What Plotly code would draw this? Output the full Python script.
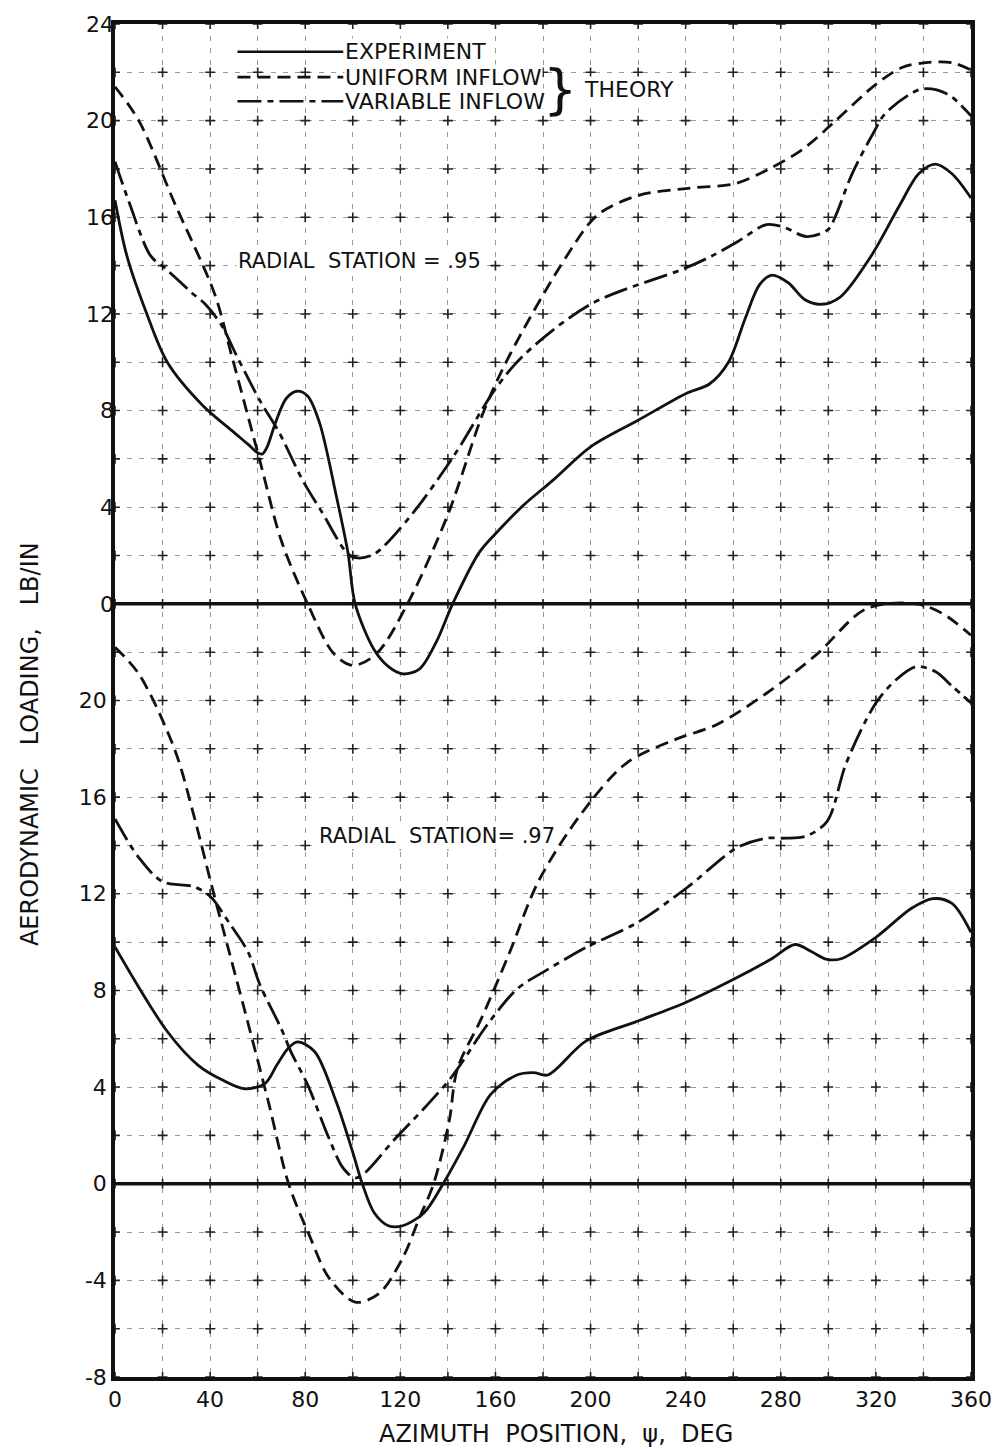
import numpy as np
import plotly.graph_objects as go

# ---------------- data ----------------
# Radial station .95 (upper panel, own scale 0..24)
exp95_x = [0, 5, 13, 22, 37, 50, 56, 60, 62, 64, 67.5, 72, 76.5, 81, 86, 93, 98, 101, 109, 115, 121,
           128, 135, 142, 153, 160, 172, 184, 200, 220, 240, 250, 258, 265, 271, 276, 283, 290, 297,
           305, 318, 330, 338, 345, 352, 360]
exp95_y = [16.7, 14.4, 12.1, 10.0, 8.2, 7.1, 6.6, 6.25, 6.2, 6.5, 7.5, 8.5, 8.8, 8.6, 7.5, 4.5, 2.1,
           0.0, -1.9, -2.6, -2.9, -2.7, -1.6, 0.0, 2.1, 2.9, 4.1, 5.1, 6.5, 7.6, 8.7, 9.1, 10.0, 11.8,
           13.2, 13.6, 13.3, 12.6, 12.4, 12.7, 14.4, 16.5, 17.8, 18.2, 17.8, 16.8]

uni95_x = [0, 10, 25, 42, 49, 61, 70, 81, 92, 100, 110, 123, 140, 155, 166, 190, 203, 220, 241, 261,
           275, 289, 302, 320, 331, 341, 352, 360]
uni95_y = [21.4, 20.0, 16.6, 12.8, 10.3, 5.9, 2.6, 0.0, -2.06, -2.55, -2.06, 0.0, 3.7, 7.95, 10.3,
           14.4, 16.1, 16.9, 17.2, 17.4, 18.0, 18.8, 19.9, 21.5, 22.2, 22.4, 22.4, 22.1]

var95_x = [0, 6, 15, 21, 32, 38, 45, 51, 61, 69, 79, 87, 98, 102, 109, 124, 143, 160, 172, 200, 240,
           251, 262, 274, 281, 291, 300, 303, 310, 319, 324, 339, 350, 360]
var95_y = [18.3, 16.6, 14.4, 13.9, 12.9, 12.4, 11.5, 10.3, 8.4, 7.1, 5.1, 3.8, 2.06, 1.9, 2.06, 3.6,
           6.2, 8.9, 10.3, 12.4, 13.9, 14.4, 15.0, 15.7, 15.6, 15.2, 15.5, 16.05, 17.8, 19.5, 20.3,
           21.3, 21.1, 20.2]

# Radial station .97 (lower panel, own scale -8..20)
exp97_x = [0, 22, 35, 45, 54.5, 63, 68, 72.6, 76.8, 84, 93, 100, 104, 109, 115, 121, 130, 138, 147,
           158, 169, 176, 182, 198, 219, 240, 261, 276, 286, 293, 299, 305, 320, 335, 344, 352, 360]
exp97_y = [9.8, 6.3, 4.9, 4.3, 3.93, 4.14, 4.9, 5.58, 5.87, 5.46, 3.4, 1.3, 0.0, -1.2, -1.74, -1.74,
           -1.2, 0.0, 1.6, 3.7, 4.5, 4.6, 4.5, 5.9, 6.7, 7.5, 8.5, 9.3, 9.9, 9.6, 9.3, 9.3, 10.2, 11.4,
           11.8, 11.6, 10.4]

uni97_x = [0, 10, 25, 33, 41, 48, 55, 64.8, 73, 82, 90, 101, 111, 121, 128, 134, 140.5, 144, 154,
           166, 178, 196, 215, 236, 253, 274, 295, 316, 337, 348, 360]
uni97_y = [22.2, 21.1, 18.0, 15.3, 12.2, 9.6, 7.0, 3.27, 0.0, -2.2, -3.9, -4.9, -4.55, -3.07, -1.42,
           0.0, 2.57, 4.76, 6.82, 9.58, 12.5, 15.3, 17.4, 18.4, 19.0, 20.3, 21.9, 23.8, 24.0, 23.6,
           22.7]

var97_x = [0, 10, 20, 33, 40, 48, 56, 61, 70, 74, 81, 90, 96, 101.5, 118, 141, 156.5, 169, 182, 198.5,
           219.5, 240.5, 261.5, 274, 282, 291, 299.5, 307.5, 320, 329, 337, 345, 352, 360]
var97_y = [15.1, 13.5, 12.5, 12.3, 11.9, 10.8, 9.58, 8.22, 6.4, 5.46, 4.1, 1.88, 0.64, 0.24, 1.88,
           4.35, 6.57, 8.05, 8.87, 9.8, 10.8, 12.25, 13.9, 14.3, 14.3, 14.4, 15.0, 17.4, 19.9, 20.9,
           21.4, 21.2, 20.6, 19.9]

x_ticks = [0, 40, 80, 120, 160, 200, 240, 280, 320, 360]
low_ticks = [-8, -4, 0, 4, 8, 12, 16, 20]      # lower panel labels
up_ticks = [0, 4, 8, 12, 16, 20, 24]           # upper panel labels

FONT = "DejaVu Sans"
INK = "#111111"

UNI_DASH = "13px,7px"
VAR_DASH = "24px,6px,6px,6px"
LW = 2.8

fig = go.Figure()

# grid intersection marks
gx, gy = np.meshgrid(np.arange(0, 361, 20), np.arange(-8, 49, 2))
fig.add_trace(go.Scatter(x=gx.ravel(), y=gy.ravel(), mode="markers",
                         marker=dict(symbol="cross-thin", size=7, line=dict(width=1.6, color="#222")),
                         hoverinfo="skip", showlegend=False))

def add(x, y, dash, axis):
    fig.add_trace(go.Scatter(x=x, y=y, mode="lines", yaxis=axis,
                             line=dict(color=INK, width=LW, dash=dash, shape="spline", smoothing=0.9),
                             showlegend=False, hoverinfo="skip"))

add(exp95_x, exp95_y, "solid", "y2")
add(uni95_x, uni95_y, UNI_DASH, "y2")
add(var95_x, var95_y, VAR_DASH, "y2")
add(exp97_x, exp97_y, "solid", "y")
add(uni97_x, uni97_y, UNI_DASH, "y")
add(var97_x, var97_y, VAR_DASH, "y")

grid_style = dict(gridcolor="#9a9a9a", gridwidth=1, griddash="5px,7px")

fig.update_layout(
    width=1004, height=1451,
    margin=dict(l=115, r=32, t=17, b=74),
    paper_bgcolor="white", plot_bgcolor="white",
    font=dict(family=FONT, color=INK),
    xaxis=dict(range=[0, 360], tickvals=x_ticks, ticktext=[str(v) for v in x_ticks],
               showgrid=True, **grid_style,
               minor=dict(dtick=20, tick0=0, showgrid=True, **grid_style),
               showline=True, linewidth=3.5, linecolor=INK, mirror=True,
               ticks="", tickfont=dict(size=22, family=FONT, color=INK), zeroline=False),
    yaxis=dict(range=[-8, 48], tickvals=low_ticks, ticktext=[str(v) for v in low_ticks],
               showgrid=True, **grid_style,
               minor=dict(dtick=2, tick0=0, showgrid=True, **grid_style),
               showline=True, linewidth=3.5, linecolor=INK, mirror=True,
               ticks="", tickfont=dict(size=22, family=FONT, color=INK), zeroline=False),
    yaxis2=dict(range=[-32, 24], overlaying="y", side="left", anchor="x",
                tickvals=up_ticks, ticktext=[str(v) for v in up_ticks],
                showgrid=False, zeroline=False, showline=False, ticks="",
                tickfont=dict(size=22, family=FONT, color=INK)),
)

# heavy zero lines of both panels
fig.add_shape(type="line", xref="x", yref="y", x0=0, x1=360, y0=0, y1=0,
              line=dict(color=INK, width=3.5))
fig.add_shape(type="line", xref="x", yref="y2", x0=0, x1=360, y0=0, y1=0,
              line=dict(color=INK, width=3.5))

# hand-drawn style legend (upper panel coordinates)
leg_y = [22.85, 21.8, 20.8]
leg_dash = ["solid", UNI_DASH, VAR_DASH]
leg_txt = ["EXPERIMENT", "UNIFORM INFLOW", "VARIABLE INFLOW"]
for yy, dd, tt in zip(leg_y, leg_dash, leg_txt):
    fig.add_shape(type="line", xref="x", yref="y2", x0=51.5, x1=96, y0=yy, y1=yy,
                  line=dict(color=INK, width=2.6, dash=dd))
    fig.add_annotation(x=96.3, y=yy, xref="x", yref="y2", text=tt, showarrow=False,
                       xanchor="left", yanchor="middle", bgcolor="white", borderpad=0,
                       font=dict(size=22, family=FONT, color=INK))
fig.add_annotation(x=187, y=21.3, xref="x", yref="y2", text="}", showarrow=False,
                   xanchor="center", yanchor="middle", font=dict(size=54, family=FONT, color=INK))
fig.add_annotation(x=197, y=21.3, xref="x", yref="y2", text="THEORY", showarrow=False,
                   xanchor="left", yanchor="middle", bgcolor="white", borderpad=0,
                   font=dict(size=22, family=FONT, color=INK))

fig.add_annotation(x=51, y=14.2, xref="x", yref="y2", text="RADIAL  STATION = .95", showarrow=False,
                   xanchor="left", yanchor="middle", bgcolor="white", borderpad=1,
                   font=dict(size=21, family=FONT, color=INK))
fig.add_annotation(x=85, y=14.4, xref="x", yref="y", text="RADIAL  STATION= .97", showarrow=False,
                   xanchor="left", yanchor="middle", bgcolor="white", borderpad=1,
                   font=dict(size=21, family=FONT, color=INK))

# axis titles
fig.add_annotation(x=0.515, y=-0.042, xref="paper", yref="paper", text="AZIMUTH  POSITION,  \u03c8,  DEG",
                   showarrow=False, xanchor="center", yanchor="middle",
                   font=dict(size=24, family=FONT, color=INK))
fig.add_annotation(x=-0.099, y=0.468, xref="paper", yref="paper",
                   text="AERODYNAMIC   LOADING,   LB/IN",
                   showarrow=False, xanchor="center", yanchor="middle", textangle=-90,
                   font=dict(size=24, family=FONT, color=INK))

fig.write_html("out.html")
